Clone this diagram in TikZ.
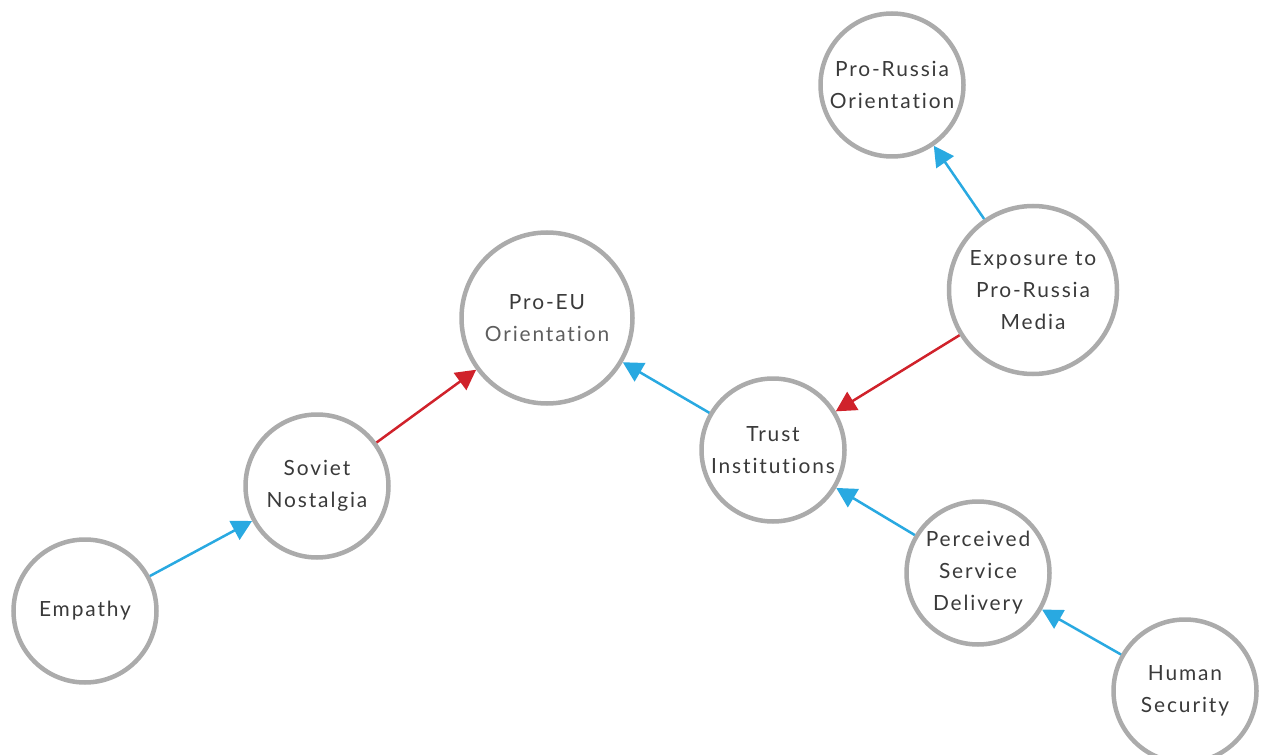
\documentclass[tikz,border=0pt]{standalone}
\usepackage{fontspec}
\setmainfont{Lato}[LetterSpace=9, RawFeature=-liga]
\usepackage{tikz}
\usetikzlibrary{shapes.geometric, arrows.meta, positioning}
\definecolor{ringgray}{HTML}{ABABAB}
\definecolor{inkgray}{HTML}{3A3A3A}
\definecolor{inklight}{HTML}{5E5E5E}
\definecolor{linkblue}{HTML}{29A9E1}
\definecolor{linkred}{HTML}{D0222B}
\tikzstyle{factor} = [circle, minimum size=2.86cm, inner sep=0pt, draw=ringgray, line width=0.09cm, text=inkgray, align=center, fill=white]
\tikzstyle{bigfactor} = [factor, minimum size=3.42cm]
\tikzstyle{posarrow} = [line width=0.05cm, color=linkblue, -{Triangle[length=0.4cm, width=0.42cm]}]
\tikzstyle{negarrow} = [posarrow, color=linkred]

\begin{document}
\begin{tikzpicture}[node distance=4.5cm, font=\fontsize{11.9}{18.2}\selectfont]
	\useasboundingbox (0,0) rectangle (25.22,-15.1);

	\node (empathy) [factor] at (1.7,-12.22) {Empathy};
	\node (soviet) [factor, right of=empathy, xshift=0.14cm, yshift=2.5cm] {Soviet\\Nostalgia};
	\node (proeu) [bigfactor, right of=soviet, xshift=0.1cm, yshift=3.36cm] {Pro-EU\\{\color{inklight}Orientation}};
	\node (trust) [factor, right of=proeu, xshift=0.02cm, yshift=-2.64cm] {Trust\\Institutions};
	\node (service) [factor, right of=trust, xshift=-0.4cm, yshift=-2.46cm] {Perceived\\Service\\Delivery};
	\node (security) [factor, right of=service, xshift=-0.36cm, yshift=-2.36cm] {Human\\Security};
	\node (media) [bigfactor, minimum size=3.36cm, right of=trust, xshift=0.7cm, yshift=3.2cm] {Exposure to\\Pro-Russia\\Media};
	\node (prorussia) [factor, above of=media, xshift=-2.82cm, yshift=-0.4cm] {Pro-Russia\\Orientation};

	\draw [posarrow] (empathy) -- (soviet);
	\draw [negarrow] (soviet) -- (proeu);
	\draw [posarrow] (trust) -- (proeu);
	\draw [negarrow] (media) -- (trust);
	\draw [posarrow] (media) -- (prorussia);
	\draw [posarrow] (service) -- (trust);
	\draw [posarrow] (security) -- (service);
\end{tikzpicture}
\end{document}
